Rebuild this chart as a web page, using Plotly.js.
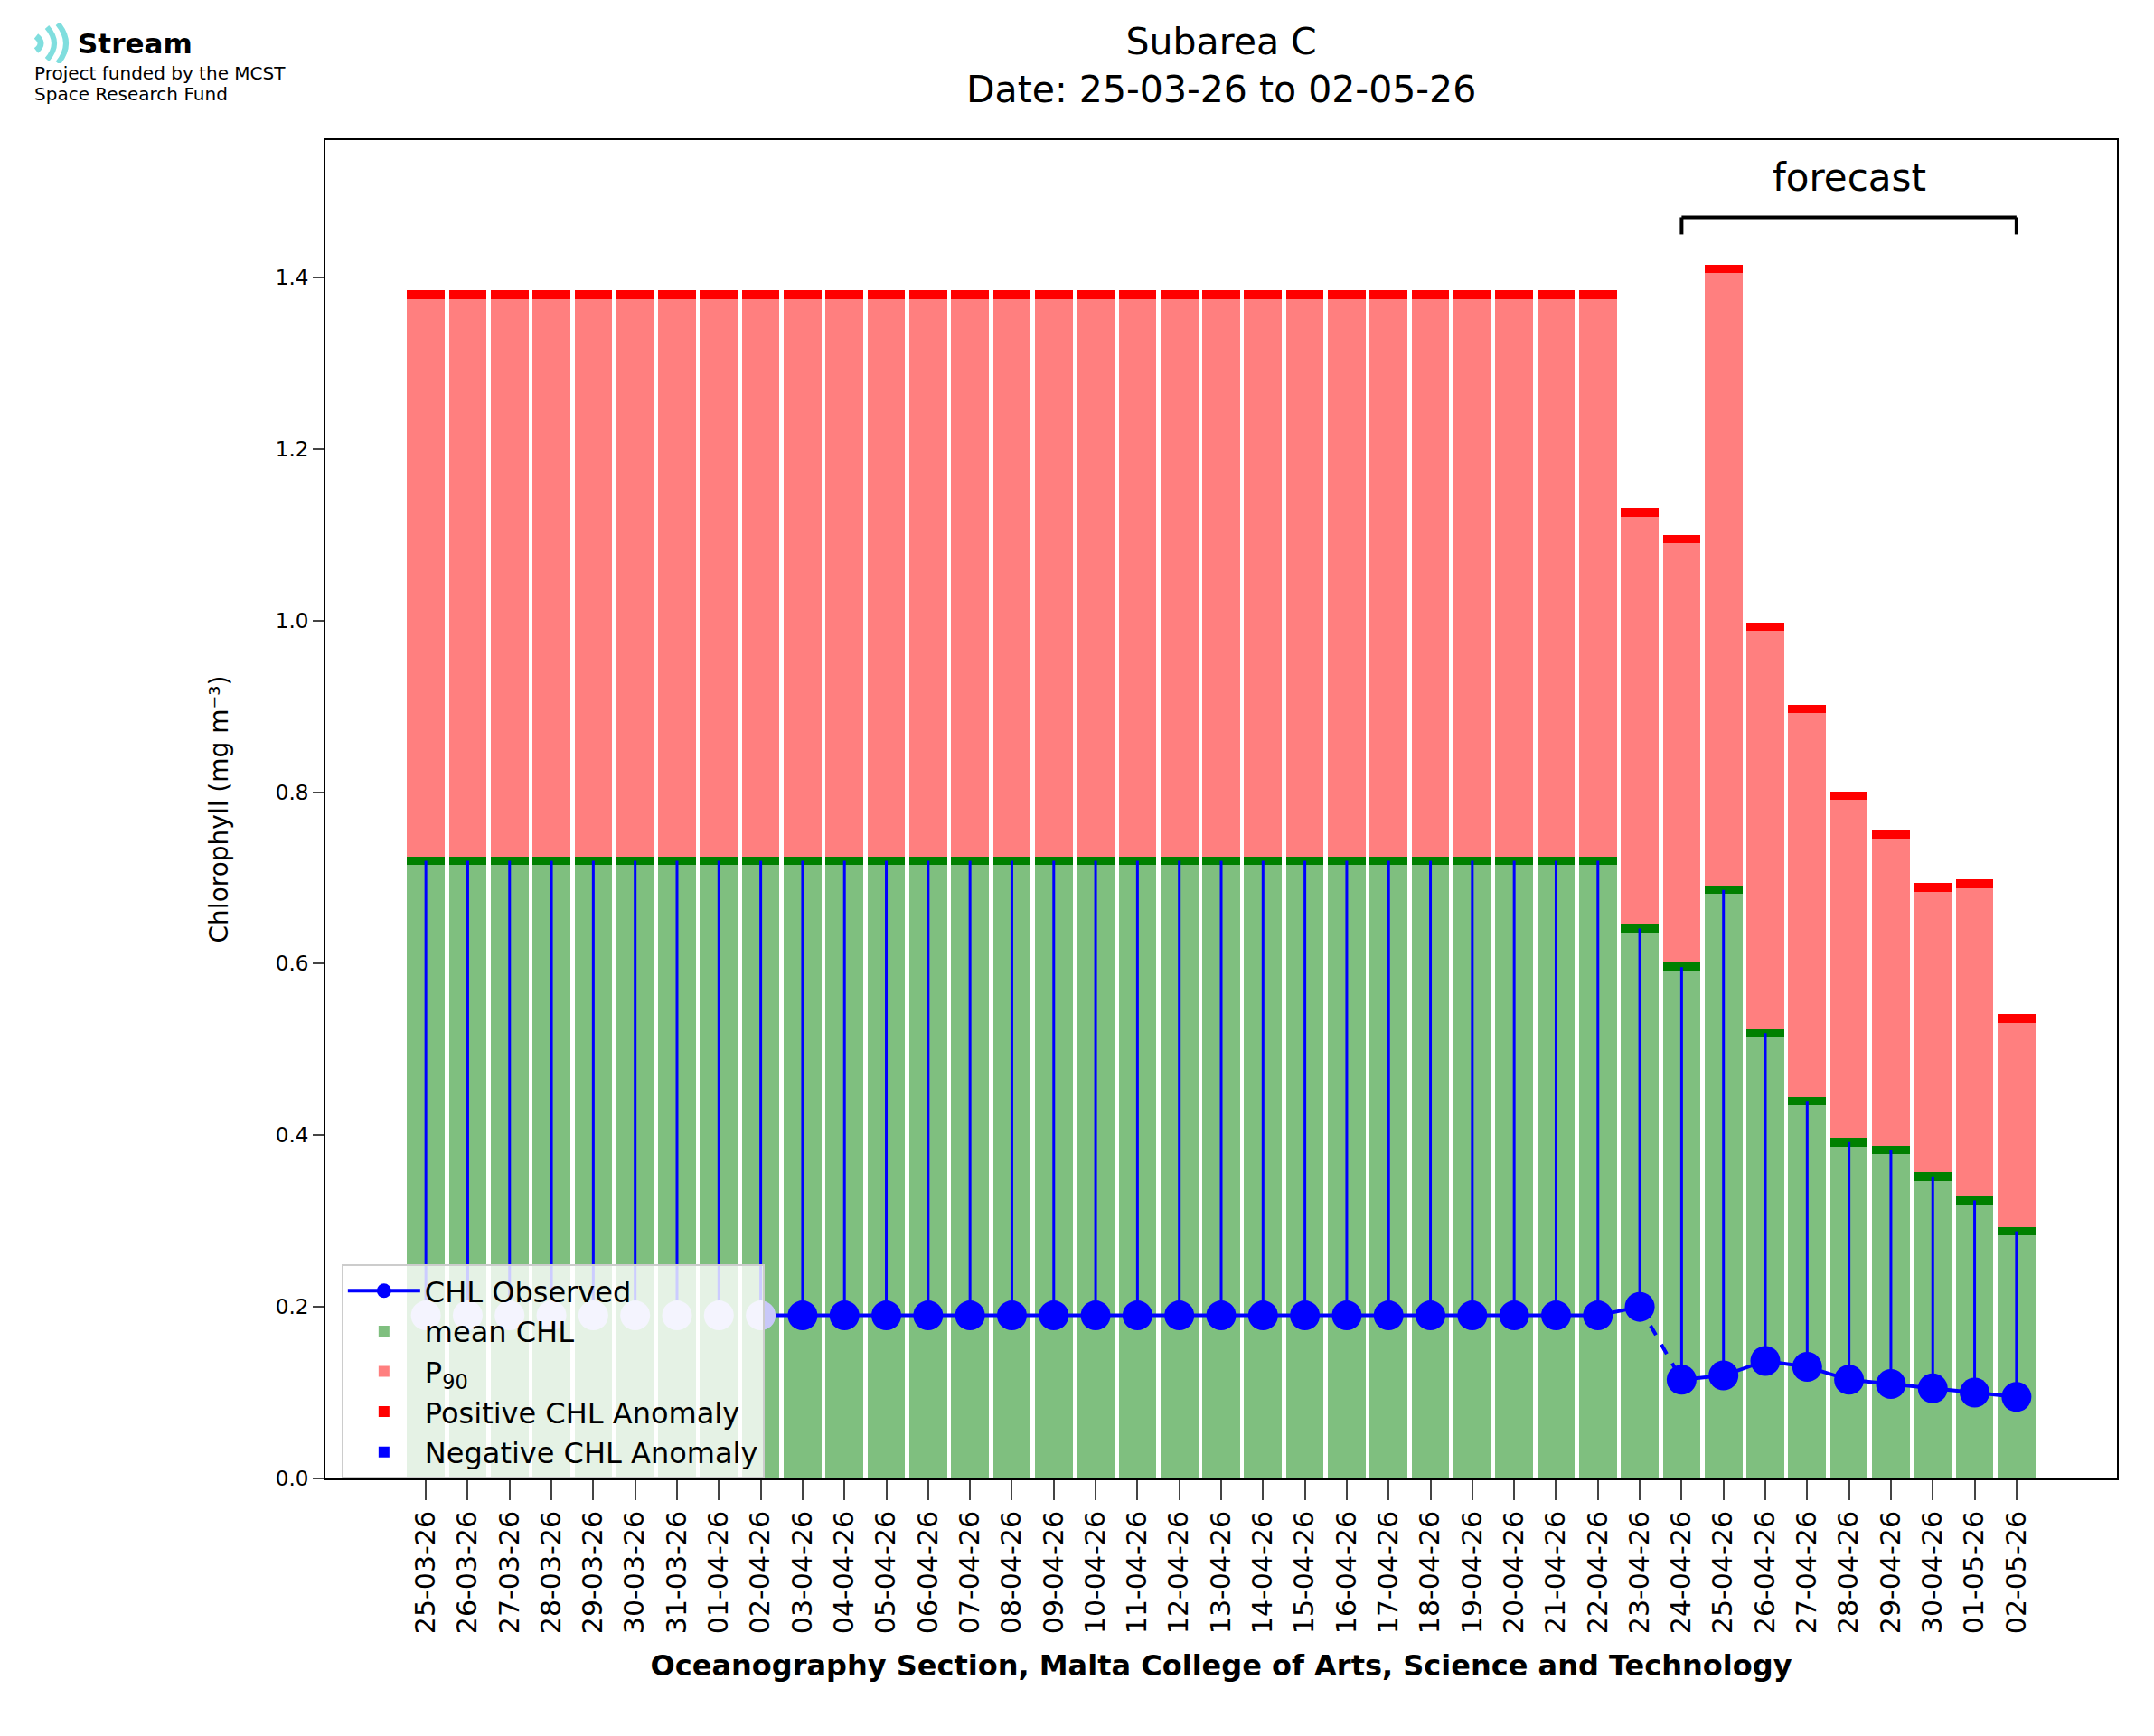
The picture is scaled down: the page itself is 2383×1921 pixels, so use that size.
<!DOCTYPE html>
<html><head><meta charset="utf-8">
<script src="https://cdn.plot.ly/plotly-3.0.1.min.js"></script>
<style>body{margin:0;background:#fff}#logo{position:absolute;left:38px;top:26px;font-family:"DejaVu Sans";z-index:10}</style>
</head><body>
<div id="logo">
<div style="display:flex;align-items:center"><svg width="46" height="44" viewBox="0 0 46 44"><rect x="0" y="0" width="44" height="44" fill="#fff"/>
<path d="M2 14 Q12 22 2 30" stroke="#80dede" stroke-width="7" fill="none"/>
<path d="M14 4 Q30 22 14 40" stroke="#80dede" stroke-width="6" fill="none"/>
<path d="M26 0 Q44 22 26 44" stroke="#80dede" stroke-width="6" fill="none"/></svg>
<span style="font-weight:bold;font-size:31px;margin-left:2px">Stream</span></div>
<div style="font-size:20px;line-height:23px">Project funded by the MCST<br>Space Research Fund</div>
</div>
<div id="chart" style="width:2383px;height:1921px"></div>
<script>
const dates=["25-03-26","26-03-26","27-03-26","28-03-26","29-03-26","30-03-26","31-03-26","01-04-26","02-04-26","03-04-26","04-04-26","05-04-26","06-04-26","07-04-26","08-04-26","09-04-26","10-04-26","11-04-26","12-04-26","13-04-26","14-04-26","15-04-26","16-04-26","17-04-26","18-04-26","19-04-26","20-04-26","21-04-26","22-04-26","23-04-26","24-04-26","25-04-26","26-04-26","27-04-26","28-04-26","29-04-26","30-04-26","01-05-26","02-05-26"];
const meanCHL=[0.72,0.72,0.72,0.72,0.72,0.72,0.72,0.72,0.72,0.72,0.72,0.72,0.72,0.72,0.72,0.72,0.72,0.72,0.72,0.72,0.72,0.72,0.72,0.72,0.72,0.72,0.72,0.72,0.72,0.641,0.596,0.686,0.519,0.44,0.392,0.383,0.352,0.324,0.288];
const p90=[1.385,1.385,1.385,1.385,1.385,1.385,1.385,1.385,1.385,1.385,1.385,1.385,1.385,1.385,1.385,1.385,1.385,1.385,1.385,1.385,1.385,1.385,1.385,1.385,1.385,1.385,1.385,1.385,1.385,1.131,1.100,1.415,0.998,0.902,0.801,0.756,0.694,0.698,0.541];
const observed=[0.19,0.19,0.19,0.19,0.19,0.19,0.19,0.19,0.19,0.19,0.19,0.19,0.19,0.19,0.19,0.19,0.19,0.19,0.19,0.19,0.19,0.19,0.19,0.19,0.19,0.19,0.19,0.19,0.19,0.2,0.115,0.12,0.137,0.13,0.115,0.11,0.105,0.1,0.095];
const nFaded=9;
const forecastStart=30, forecastEnd=38;

const x=dates.map((d,i)=>i);
const W=0.9;
const band=0.01;
const traces=[];
traces.push({type:'bar',x:x,y:meanCHL,base:0,width:W,marker:{color:'rgba(0,128,0,0.5)'},name:'mean CHL'});
traces.push({type:'bar',x:x,y:p90.map((p,i)=>p-band-meanCHL[i]),base:meanCHL,width:W,marker:{color:'rgba(255,0,0,0.5)'},name:'P<sub>90</sub>'});
traces.push({type:'bar',x:x,y:p90.map(()=>band),base:p90.map(p=>p-band),width:W,marker:{color:'#ff0000'},name:'Positive CHL Anomaly'});
traces.push({type:'bar',x:x,y:meanCHL.map(()=>band),base:meanCHL.map(m=>m-band/2),width:W,marker:{color:'#008000'}});
traces.push({type:'bar',x:[null],y:[null],marker:{color:'#0000ff'},name:'Negative CHL Anomaly'});
const sx=[],sy=[];
x.forEach((v,i)=>{sx.push(v,v,null);sy.push(observed[i],meanCHL[i],null);});
traces.push({type:'scatter',mode:'lines',x:sx,y:sy,line:{color:'#0000ff',width:3},hoverinfo:'skip'});
traces.push({type:'scatter',mode:'lines',x:x.slice(nFaded-1,forecastStart),y:observed.slice(nFaded-1,forecastStart),line:{color:'#0000ff',width:4}});
traces.push({type:'scatter',mode:'lines',x:[forecastStart-1,forecastStart],y:[observed[forecastStart-1],observed[forecastStart]],line:{color:'#0000ff',width:4,dash:'dash'}});
traces.push({type:'scatter',mode:'lines',x:x.slice(forecastStart),y:observed.slice(forecastStart),line:{color:'#0000ff',width:4}});
traces.push({type:'scatter',mode:'markers',x:x,y:observed,marker:{size:33,color:x.map(i=>i<nFaded?'#c8c8f8':'#0000ff')}});
traces.push({type:'scatter',mode:'lines+markers',x:[null],y:[null],line:{color:'#0000ff',width:4},marker:{size:28,color:'#0000ff'},name:'CHL Observed'});

const layout={
 width:2383,height:1921,barmode:'overlay',bargap:0,
 margin:{l:360,r:41,t:155,b:285},
 font:{family:'DejaVu Sans',color:'#000'},
 xaxis:{range:[-2.4,40.4],tickvals:x,ticktext:dates,tickangle:-90,tickfont:{size:30},ticks:'outside',ticklen:22,tickwidth:2,showgrid:false,zeroline:false,showline:true,mirror:true,linewidth:2,linecolor:'#000',
  title:{text:'<b>Oceanography Section, Malta College of Arts, Science and Technology</b>',font:{size:32},standoff:24}},
 yaxis:{range:[0,1.56],tickvals:[0,0.2,0.4,0.6,0.8,1.0,1.2,1.4],ticktext:['0.0','0.2','0.4','0.6','0.8','1.0','1.2','1.4'],tickfont:{size:23},ticks:'outside',ticklen:12,tickwidth:2,showgrid:false,zeroline:false,showline:true,mirror:true,linewidth:2,linecolor:'#000',
  title:{text:'Chlorophyll (mg m⁻³)',font:{size:28},standoff:44}},
 legend:{x:0.009,y:0.0,xanchor:'left',yanchor:'bottom',bgcolor:'rgba(255,255,255,0.8)',bordercolor:'#ccc',borderwidth:2,font:{size:32},traceorder:'normal',itemwidth:80},
 showlegend:true,
 shapes:[
  {type:'line',xref:'x',yref:'y',x0:forecastStart,x1:forecastEnd,y0:1.47,y1:1.47,line:{color:'#000',width:4}},
  {type:'line',xref:'x',yref:'y',x0:forecastStart,x1:forecastStart,y0:1.47,y1:1.45,line:{color:'#000',width:4}},
  {type:'line',xref:'x',yref:'y',x0:forecastEnd,x1:forecastEnd,y0:1.47,y1:1.45,line:{color:'#000',width:4}}
 ],
 annotations:[
  {xref:'x',yref:'y',x:(forecastStart+forecastEnd)/2,y:1.488,text:'forecast',showarrow:false,yanchor:'bottom',font:{size:42}},
  {xref:'paper',yref:'paper',x:0.5,y:1.02,yanchor:'bottom',text:'Subarea C<br>Date: 25-03-26 to 02-05-26',showarrow:false,font:{size:41}}
 ]
};
const order=[10,0,1,2,4];
traces.forEach((t,i)=>{t.showlegend=order.includes(i);if(order.includes(i))t.legendrank=order.indexOf(i)+1;});
Plotly.newPlot('chart',traces,layout,{displayModeBar:false});
</script></body></html>
